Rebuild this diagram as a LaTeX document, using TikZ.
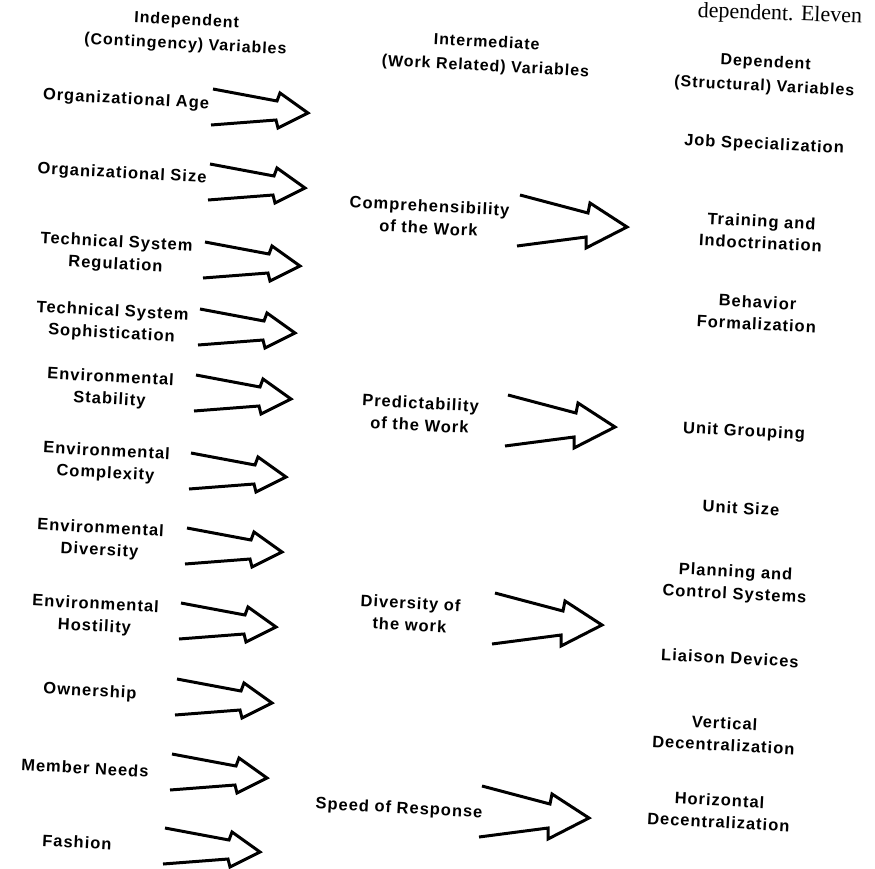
\documentclass[tikz,border=0pt]{standalone}
\usepackage{fontspec}
\newfontfamily\lblfont{Liberation Sans}[LetterSpace=6]
\newfontfamily\runfont{Liberation Serif}
\begin{document}
\begin{tikzpicture}[x=1pt,y=-1pt,
  lbl/.style={font=\lblfont\bfseries\fontsize{16.5}{22}\selectfont,
    align=center, rotate=-3, inner sep=0pt},
  head/.style={lbl, font=\lblfont\bfseries\fontsize{16}{24}\selectfont},
  blockline/.style={line width=3pt, line join=miter, line cap=butt},
  smallarrow/.pic={\draw[blockline] (-95,-24) -- (-31,-12) -- (-28,-20) -- (0,0)
      -- (-30,15) -- (-32,7) -- (-97,12);},
  bigarrow/.pic={\draw[blockline] (-107,-32) -- (-39,-14) -- (-37,-24) -- (0,0)
      -- (-41,21) -- (-41,10) -- (-110,19);}
]
\useasboundingbox (0,0) rectangle (875,868);

% run-on line of the page text above the figure
\node[font=\runfont\fontsize{22}{22}\selectfont, anchor=base east, rotate=-2,
  inner sep=0pt] (runon) at (862,23) {dependent. Eleven};

% column headings
\node[head] (hIndep) at (186,33) {Independent\\(Contingency) Variables};
\node[head] (hInter) at (486,55) {Intermediate\\(Work Related) Variables};
\node[head] (hDep)   at (765,75) {Dependent\\(Structural) Variables};

% independent variables
\node[lbl] (age)   at (126,100) {Organizational Age};
\node[lbl] (size)  at (122,174) {Organizational Size};
\node[lbl] (tsreg) at (116,254) {Technical System\\Regulation};
\node[lbl] (tssop) at (112,323) {Technical System\\Sophistication};
\node[lbl] (estab) at (110,389) {Environmental\\Stability};
\node[lbl] (ecomp) at (106,463) {Environmental\\Complexity};
\node[lbl] (ediv)  at (100,540) {Environmental\\Diversity};
\node[lbl] (ehost) at (95,616)  {Environmental\\Hostility};
\node[lbl] (own)   at (90,692)  {Ownership};
\node[lbl] (needs) at (85,768)  {Member Needs};
\node[lbl] (fash)  at (77,842)  {Fashion};

\pic (aAge)   at (308,113) {smallarrow};
\pic (aSize)  at (305,188) {smallarrow};
\pic (aTsreg) at (300,266) {smallarrow};
\pic (aTssop) at (295,333) {smallarrow};
\pic (aEstab) at (291,399) {smallarrow};
\pic (aEcomp) at (286,477) {smallarrow};
\pic (aEdiv)  at (282,552) {smallarrow};
\pic (aEhost) at (276,627) {smallarrow};
\pic (aOwn)   at (272,703) {smallarrow};
\pic (aNeeds) at (267,778) {smallarrow};
\pic (aFash)  at (260,852) {smallarrow};

% intermediate variables
\node[lbl] (compr) at (429,217) {Comprehensibility\\of the Work};
\node[lbl] (pred)  at (420,414) {Predictability\\of the Work};
\node[lbl] (divw)  at (410,614) {Diversity of\\the work};
\node[lbl] (speed) at (399,809) {Speed of Response};

\pic (aCompr) at (627,227) {bigarrow};
\pic (aPred)  at (615,427) {bigarrow};
\pic (aDivw)  at (602,625) {bigarrow};
\pic (aSpeed) at (589,818) {bigarrow};

% dependent variables
\node[lbl] (jobspec) at (764,145) {Job Specialization};
\node[lbl] (train)   at (761,232) {Training and\\Indoctrination};
\node[lbl] (behav)   at (757,313) {Behavior\\Formalization};
\node[lbl] (ugroup)  at (744,432) {Unit Grouping};
\node[lbl] (usize)   at (741,508) {Unit Size};
\node[lbl] (plan)    at (735,584) {Planning and\\Control Systems};
\node[lbl] (liaison) at (730,658) {Liaison Devices};
\node[lbl] (vdec)    at (724,734) {Vertical\\Decentralization};
\node[lbl] (hdec)    at (719,811) {Horizontal\\Decentralization};
\end{tikzpicture}
\end{document}
